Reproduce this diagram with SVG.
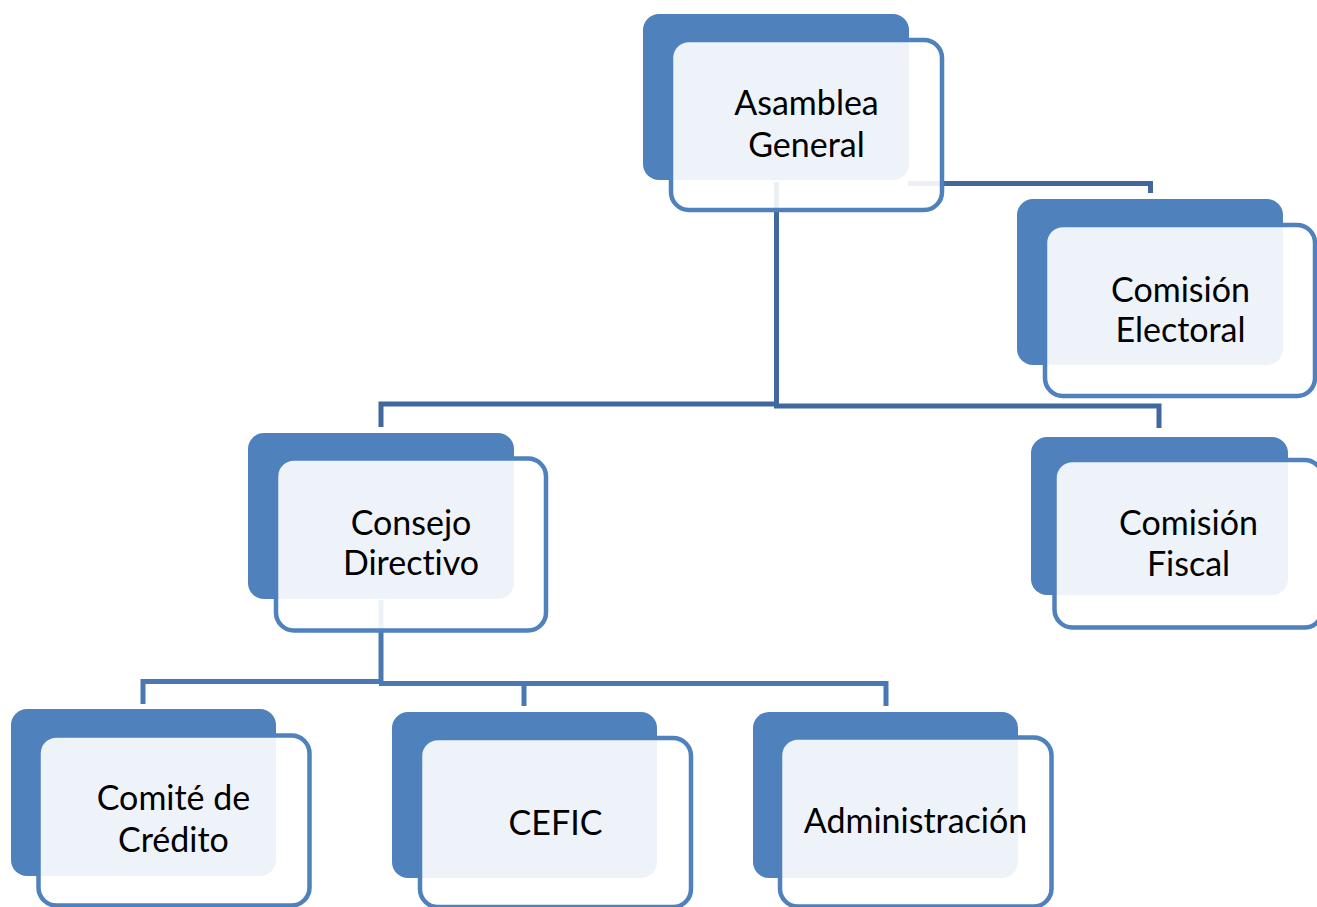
<svg xmlns="http://www.w3.org/2000/svg" width="1317" height="907" viewBox="0 0 1317 907">
<style>
.back{fill:#4f81bd;}
.front{fill:#ffffff;fill-opacity:0.9;stroke:#4f81bd;stroke-width:4.5;}
.c1{fill:none;stroke:#41689c;stroke-width:5;stroke-linejoin:miter;}
.c2{fill:none;stroke:#4a78b3;stroke-width:5;stroke-linejoin:miter;}
text{font-family:Lato,"Open Sans","DejaVu Sans",sans-serif;font-size:34px;fill:#000000;text-anchor:middle;font-variant-ligatures:none;}
</style>
<rect width="1317" height="907" fill="#ffffff"/>
<g id="connectors">
<path class="c1" d="M776.5,182 V406"/>
<path class="c1" d="M381,427 V404 H776.5"/>
<path class="c1" d="M774,406 H1159 V428"/>
<path class="c1" d="M908,183.5 H1150.5 V193"/>
<path class="c2" d="M381,600 V684"/>
<path class="c2" d="M143,704 V681.5 H381"/>
<path class="c2" d="M379,683.5 H886 V706"/>
<path class="c2" d="M524,683.5 V706"/>
</g>
<g id="asamblea">
<rect class="back" x="643" y="14" width="266" height="166" rx="16"/>
<rect class="front" x="671" y="40" width="271" height="170" rx="18"/>
<text x="806.5" y="115">Asamblea</text>
<text x="806.5" y="157">General</text>
</g>
<g id="comision-electoral">
<rect class="back" x="1017" y="199" width="266" height="166" rx="16"/>
<rect class="front" x="1045" y="225" width="270" height="171" rx="18"/>
<text x="1180.5" y="301.5">Comisión</text>
<text x="1180.5" y="341.5">Electoral</text>
</g>
<g id="consejo-directivo">
<rect class="back" x="248" y="433" width="266" height="166" rx="16"/>
<rect class="front" x="276" y="458.5" width="270" height="172" rx="18"/>
<text x="411" y="535">Consejo</text>
<text x="411" y="575">Directivo</text>
</g>
<g id="comision-fiscal">
<rect class="back" x="1031" y="437" width="257" height="158" rx="16"/>
<rect class="front" x="1054.5" y="460" width="268" height="167.5" rx="18"/>
<text x="1188.5" y="535">Comisión</text>
<text x="1188.5" y="576">Fiscal</text>
</g>
<g id="comite-credito">
<rect class="back" x="11" y="709" width="265" height="167" rx="16"/>
<rect class="front" x="38.5" y="735.5" width="271" height="170" rx="18"/>
<text x="173.5" y="810">Comité de</text>
<text x="173.5" y="851.5">Crédito</text>
</g>
<g id="cefic">
<rect class="back" x="392" y="712" width="265" height="166" rx="16"/>
<rect class="front" x="420" y="738" width="271" height="169" rx="18"/>
<text x="555.5" y="835">CEFIC</text>
</g>
<g id="administracion">
<rect class="back" x="753" y="712" width="265" height="166" rx="16"/>
<rect class="front" x="780" y="737.5" width="271.5" height="169" rx="18"/>
<text x="915.5" y="833">Administración</text>
</g>
</svg>
